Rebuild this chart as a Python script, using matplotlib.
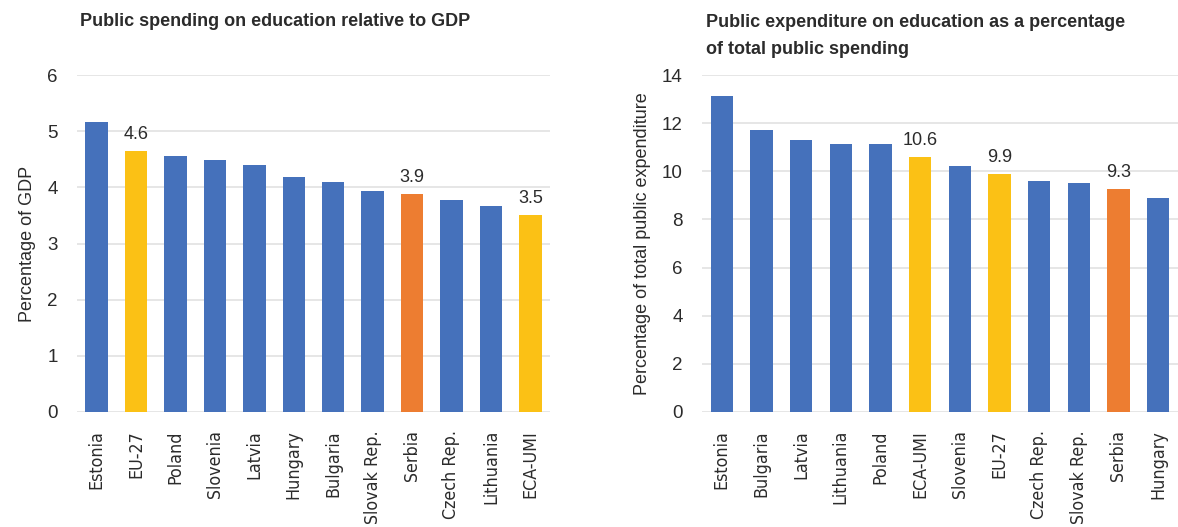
import numpy as np
import matplotlib
matplotlib.use("Agg")
import matplotlib.pyplot as plt
from matplotlib import font_manager

# Data
gdp_countries = ["Estonia", "EU-27", "Poland", "Slovenia", "Latvia", "Hungary",
                 "Bulgaria", "Slovak Rep.", "Serbia", "Czech Rep.", "Lithuania", "ECA-UMI"]
gdp_values = [5.17, 4.64, 4.55, 4.48, 4.39, 4.18, 4.09, 3.93, 3.88, 3.77, 3.66, 3.50]
gdp_labels = {"EU-27": "4.6", "Serbia": "3.9", "ECA-UMI": "3.5"}

exp_countries = ["Estonia", "Bulgaria", "Latvia", "Lithuania", "Poland", "ECA-UMI",
                 "Slovenia", "EU-27", "Czech Rep.", "Slovak Rep.", "Serbia", "Hungary"]
exp_values = [13.11, 11.70, 11.29, 11.12, 11.12, 10.59, 10.21, 9.88, 9.59, 9.51, 9.26, 8.89]
exp_labels = {"ECA-UMI": "10.6", "EU-27": "9.9", "Serbia": "9.3"}

BLUE = "#4571BB"
YELLOW = "#FBC115"
ORANGE = "#ED7D31"
TEXT = "#2B2B2B"
GRID = "#E2E2E2"

available = {f.name for f in font_manager.fontManager.ttflist}
narrow = "Liberation Sans Narrow" if "Liberation Sans Narrow" in available else "Liberation Sans"

# condensed face for the category labels, if present
cond_file = None
for f in font_manager.fontManager.ttflist:
    if "DejaVuSansCondensed.ttf" in f.fname:
        cond_file = f.fname
if cond_file:
    cat_font = font_manager.FontProperties(fname=cond_file, size=12.8)
else:
    cat_font = font_manager.FontProperties(family="DejaVu Sans", size=11.5)


def bar_color(name):
    if name == "Serbia":
        return ORANGE
    if name in ("EU-27", "ECA-UMI"):
        return YELLOW
    return BLUE


def draw_panel(ax, names, values, labels, ymax, ystep, ylabel):
    x = np.arange(len(names))
    bars = ax.bar(x, values, width=0.57, color=[bar_color(n) for n in names], zorder=3)
    for b, n in zip(bars, names):
        if n in labels:
            ax.text(b.get_x() + b.get_width() / 2, b.get_height() + ymax * 0.025, labels[n],
                    ha="center", va="bottom", fontsize=13, family=narrow, color=TEXT)
    ax.set_xlim(-0.5, len(names) - 0.5)
    ax.set_ylim(0, ymax)
    ax.set_yticks(np.arange(0, ymax + 0.01, ystep))
    ax.yaxis.grid(True, color=GRID, linewidth=1.2, zorder=0)
    ax.set_axisbelow(True)
    for s in ax.spines.values():
        s.set_visible(False)
    ax.tick_params(length=0)
    ax.set_xticks(x)
    ax.set_xticklabels(names, rotation=90, fontproperties=cat_font, color=TEXT)
    for t in ax.get_yticklabels():
        t.set_fontfamily(narrow)
        t.set_fontsize(13.5)
        t.set_color(TEXT)
    ax.tick_params(axis="y", pad=14)
    ax.tick_params(axis="x", pad=13)
    ax.set_ylabel(ylabel, fontsize=13, family=narrow, color=TEXT, labelpad=8)


fig = plt.figure(figsize=(11.78, 5.27), dpi=100)

ax1 = fig.add_axes([77 / 1178, 115 / 527, 473 / 1178, 337 / 527])
draw_panel(ax1, gdp_countries, gdp_values, gdp_labels, 6, 1, "Percentage of GDP")
fig.text(80 / 1178, 1 - 22 / 527, "Public spending on education relative to GDP",
         ha="left", va="center", fontsize=13, fontweight="bold", family=narrow, color=TEXT)

ax2 = fig.add_axes([702 / 1178, 115 / 527, 476 / 1178, 337 / 527])
draw_panel(ax2, exp_countries, exp_values, exp_labels, 14, 2,
           "Percentage of total public expenditure")
fig.text(706 / 1178, 1 - 36 / 527,
         "Public expenditure on education as a percentage\nof total public spending",
         ha="left", va="center", fontsize=13, fontweight="bold", family=narrow,
         color=TEXT, linespacing=1.75)

fig.savefig("out.png", dpi=100)
